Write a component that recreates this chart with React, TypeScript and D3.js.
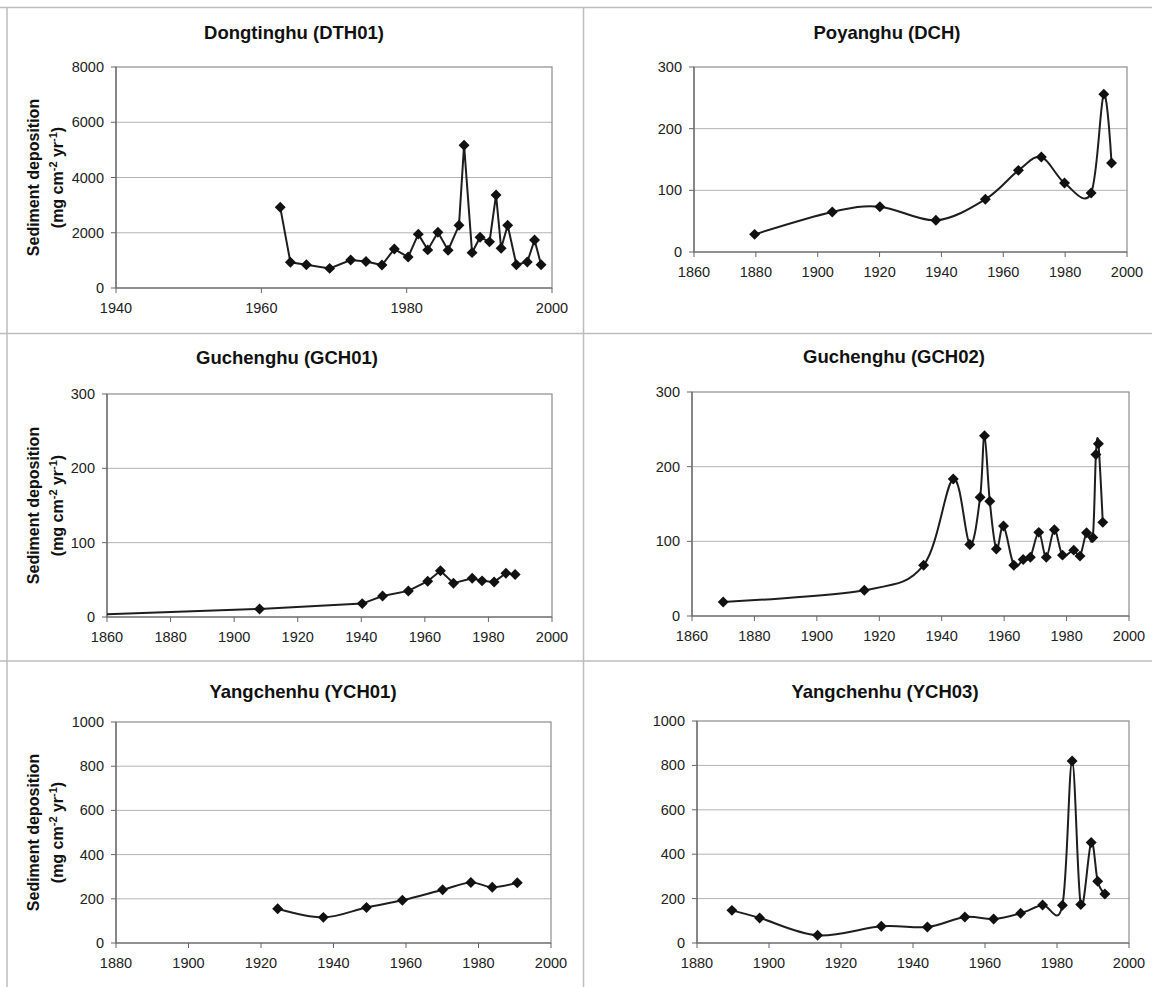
import React from "react";
import * as d3 from "d3";

// ---------- Data ----------
const dth01Years = [1962.6, 1964.0, 1966.2, 1969.4, 1972.3, 1974.4, 1976.6, 1978.3, 1980.2, 1981.6, 1982.9, 1984.3, 1985.7, 1987.2, 1987.9, 1989.0, 1990.1, 1991.4, 1992.3, 1993.0, 1993.9, 1995.1, 1996.6, 1997.6, 1998.5];
const dth01Values = [2920, 930, 840, 710, 1010, 960, 830, 1410, 1120, 1950, 1380, 2020, 1370, 2270, 5170, 1280, 1840, 1670, 3370, 1440, 2270, 840, 940, 1740, 840];

const dchYears = [1879.6, 1904.7, 1920.1, 1938.2, 1954.2, 1964.9, 1972.3, 1979.8, 1988.4, 1992.5, 1995.0];
const dchValues = [28.6, 64.9, 73.5, 51.4, 85.4, 132.4, 154, 111.9, 95.7, 256, 144.3];

// first point (1860) is drawn as line only, without a marker
const gch01Years = [1860, 1908.0, 1940.3, 1946.7, 1954.8, 1960.9, 1964.9, 1969.0, 1974.9, 1978.0, 1981.8, 1985.5, 1988.4];
const gch01Values = [3.6, 10.8, 18, 28.3, 35.1, 48.1, 62.1, 45.4, 52.2, 48.6, 47.2, 58.9, 57.1];

const gch02Years = [1870.0, 1915.2, 1934.2, 1943.7, 1949.0, 1952.3, 1953.7, 1955.4, 1957.5, 1959.8, 1963.1, 1966.1, 1968.4, 1971.1, 1973.5, 1976.1, 1978.7, 1982.3, 1984.3, 1986.4, 1988.4, 1989.4, 1990.2, 1991.6];
const gch02Values = [18.8, 34.5, 68.1, 183.6, 95.8, 159, 241.4, 153.6, 89.6, 120.5, 68.1, 75.7, 78.8, 112, 78.8, 115.5, 81.5, 88.2, 80.2, 111.5, 105.2, 216.3, 230.6, 125.4];

const ych01Years = [1924.6, 1937.2, 1949.1, 1959.0, 1970.1, 1977.9, 1983.8, 1990.7];
const ych01Values = [155, 116, 161, 193, 241, 274, 252, 273];

const ych03Years = [1889.7, 1897.4, 1913.5, 1931.2, 1944.0, 1954.4, 1962.4, 1969.9, 1976.0, 1981.5, 1984.2, 1986.6, 1989.5, 1991.3, 1993.3];
const ych03Values = [147, 113, 34.5, 75, 72, 117, 108, 134, 171, 170, 820, 173, 453, 278, 221];

const titles = ["Dongtinghu (DTH01)", "Poyanghu (DCH)", "Guchenghu (GCH01)", "Guchenghu (GCH02)", "Yangchenhu (YCH01)", "Yangchenhu (YCH03)"];

const yTicks8000 = [0, 2000, 4000, 6000, 8000];
const yTicks300 = [0, 100, 200, 300];
const yTicks1000 = [0, 200, 400, 600, 800, 1000];
const xTicks1940 = [1940, 1960, 1980, 2000];
const xTicks1860 = [1860, 1880, 1900, 1920, 1940, 1960, 1980, 2000];
const xTicks1880 = [1880, 1900, 1920, 1940, 1960, 1980, 2000];

const yTitleLine1 = "Sediment deposition";

// ---------- Layout ----------
const W = 1152;
const H = 987;
const FONT = "'Liberation Sans', Arial, sans-serif";

type PanelCfg = {
  title: string;
  titleX: number;
  titleY: number;
  left: number;
  right: number;
  top: number;
  bottom: number;
  xTicks: number[];
  yTicks: number[];
  years: number[];
  values: number[];
  smooth: boolean;
  yTitle: boolean;
  hideFirstMarker?: boolean;
};

const panels: PanelCfg[] = [
  { title: titles[0], titleX: 294, titleY: 33, left: 116, right: 552, top: 67, bottom: 288, xTicks: xTicks1940, yTicks: yTicks8000, years: dth01Years, values: dth01Values, smooth: false, yTitle: true },
  { title: titles[1], titleX: 887, titleY: 33, left: 694, right: 1127, top: 67, bottom: 252, xTicks: xTicks1860, yTicks: yTicks300, years: dchYears, values: dchValues, smooth: true, yTitle: false },
  { title: titles[2], titleX: 287, titleY: 358, left: 107, right: 552, top: 394, bottom: 617, xTicks: xTicks1860, yTicks: yTicks300, years: gch01Years, values: gch01Values, smooth: false, yTitle: true, hideFirstMarker: true },
  { title: titles[3], titleX: 894, titleY: 357, left: 692, right: 1129, top: 392, bottom: 616, xTicks: xTicks1860, yTicks: yTicks300, years: gch02Years, values: gch02Values, smooth: true, yTitle: false },
  { title: titles[4], titleX: 303, titleY: 692, left: 116, right: 551, top: 722, bottom: 943, xTicks: xTicks1880, yTicks: yTicks1000, years: ych01Years, values: ych01Values, smooth: true, yTitle: true },
  { title: titles[5], titleX: 885, titleY: 692, left: 697, right: 1129, top: 721, bottom: 943, xTicks: xTicks1880, yTicks: yTicks1000, years: ych03Years, values: ych03Values, smooth: true, yTitle: false },
];

const diamond = d3.symbol().type(d3.symbolSquare).size(60)() as string;

function Panel({ cfg, idx }: { cfg: PanelCfg; idx: number }) {
  const x = d3
    .scaleLinear()
    .domain([cfg.xTicks[0], cfg.xTicks[cfg.xTicks.length - 1]])
    .range([cfg.left, cfg.right]);
  const y = d3
    .scaleLinear()
    .domain([cfg.yTicks[0], cfg.yTicks[cfg.yTicks.length - 1]])
    .range([cfg.bottom, cfg.top]);
  const pts: [number, number][] = cfg.years.map((yr, i) => [yr, cfg.values[i]]);
  const line = d3
    .line<[number, number]>()
    .x((d) => x(d[0]))
    .y((d) => y(d[1]))
    .curve(cfg.smooth ? d3.curveCardinal.tension(0) : d3.curveLinear);
  const cy = (cfg.top + cfg.bottom) / 2;
  const clipId = `clip${idx}`;
  return (
    <g>
      <defs>
        <clipPath id={clipId}>
          <rect x={cfg.left} y={cfg.top - 8} width={cfg.right - cfg.left + 8} height={cfg.bottom - cfg.top + 8} />
        </clipPath>
      </defs>
      <text x={cfg.titleX} y={cfg.titleY + 6} textAnchor="middle" fontFamily={FONT} fontWeight="bold" fontSize={18.5} fill="#111">
        {cfg.title}
      </text>
      {/* gridlines */}
      {cfg.yTicks.slice(1, -1).map((t) => (
        <line key={`g${t}`} x1={cfg.left} x2={cfg.right} y1={y(t)} y2={y(t)} stroke="#b4b4b4" strokeWidth={1} />
      ))}
      {/* plot frame */}
      <rect x={cfg.left} y={cfg.top} width={cfg.right - cfg.left} height={cfg.bottom - cfg.top} fill="none" stroke="#8c8c8c" strokeWidth={1.2} />
      <line x1={cfg.left} x2={cfg.left} y1={cfg.top} y2={cfg.bottom} stroke="#666" strokeWidth={1.2} />
      <line x1={cfg.left} x2={cfg.right} y1={cfg.bottom} y2={cfg.bottom} stroke="#666" strokeWidth={1.2} />
      {/* y ticks */}
      {cfg.yTicks.map((t) => (
        <g key={`y${t}`}>
          <line x1={cfg.left - 5} x2={cfg.left} y1={y(t)} y2={y(t)} stroke="#666" />
          <text x={cfg.left - 12} y={y(t) + 5} textAnchor="end" fontFamily={FONT} fontSize={14.5} fill="#222">
            {t}
          </text>
        </g>
      ))}
      {/* x ticks */}
      {cfg.xTicks.map((t) => (
        <g key={`x${t}`}>
          <line x1={x(t)} x2={x(t)} y1={cfg.bottom} y2={cfg.bottom + 5} stroke="#666" />
          <text x={x(t)} y={cfg.bottom + 25} textAnchor="middle" fontFamily={FONT} fontSize={14.5} fill="#222">
            {t}
          </text>
        </g>
      ))}
      {/* y title */}
      {cfg.yTitle && (
        <g fontFamily={FONT} fontWeight="bold" fontSize={16} fill="#111">
          <text transform={`translate(39,${cy}) rotate(-90)`} textAnchor="middle">
            {yTitleLine1}
          </text>
          <text transform={`translate(63,${cy}) rotate(-90)`} textAnchor="middle">
            {"(mg cm"}
            <tspan dy={-6} fontSize={11}>
              -2
            </tspan>
            <tspan dy={6}>{" yr"}</tspan>
            <tspan dy={-6} fontSize={11}>
              -1
            </tspan>
            <tspan dy={6}>{")"}</tspan>
          </text>
        </g>
      )}
      {/* data */}
      <g clipPath={`url(#${clipId})`}>
        <path d={line(pts) || ""} fill="none" stroke="#1e1e1e" strokeWidth={2} />
        {pts.map((p, i) =>
          cfg.hideFirstMarker && i === 0 ? null : (
            <path key={i} d={diamond} transform={`translate(${x(p[0])},${y(p[1])}) rotate(45)`} fill="#111" />
          )
        )}
      </g>
    </g>
  );
}

export default function App() {
  return (
    <svg width={W} height={H} viewBox={`0 0 ${W} ${H}`} style={{ position: "absolute", left: 0, top: 0, background: "#fff" }}>
      <rect x={0} y={0} width={W} height={H} fill="#fff" />
      {/* panel dividers */}
      <line x1={0} x2={W} y1={7.5} y2={7.5} stroke="#bdbdbd" strokeWidth={1.5} />
      <line x1={0} x2={W} y1={333.5} y2={333.5} stroke="#bdbdbd" strokeWidth={1.5} />
      <line x1={0} x2={W} y1={661} y2={661} stroke="#bdbdbd" strokeWidth={1.5} />
      <line x1={7} x2={7} y1={7} y2={H} stroke="#bdbdbd" strokeWidth={1.5} />
      <line x1={583.5} x2={583.5} y1={7} y2={H} stroke="#bdbdbd" strokeWidth={1.5} />
      {panels.map((p, i) => (
        <Panel key={i} cfg={p} idx={i} />
      ))}
    </svg>
  );
}
